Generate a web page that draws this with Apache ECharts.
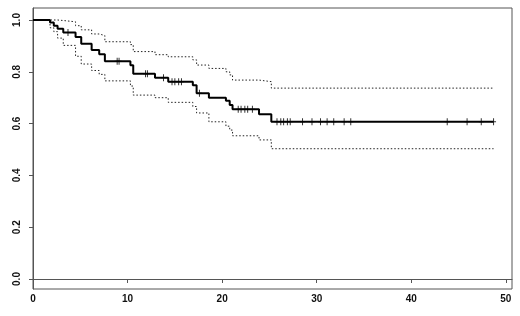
<!DOCTYPE html>
<html>
<head>
<meta charset="utf-8">
<script src="https://cdn.jsdelivr.net/npm/echarts@6/dist/echarts.min.js"></script>
<style>
  html, body { margin: 0; padding: 0; background: #fff; }
  #km_chart { width: 520px; height: 316px; }
</style>
</head>
<body>
<div id="km_chart"></div>
<script>
// event times (months) and survival estimate with confidence limits
const eventTimes = [0, 1.8, 2.2, 2.6, 3.2, 4.5, 5.1, 6.2, 7.0, 7.6, 10.3, 10.6, 12.9, 14.3, 16.9, 17.3, 18.6, 20.4, 20.8, 21.1, 23.9, 25.2];
const survival   = [1, 0.99, 0.978, 0.966, 0.952, 0.934, 0.908, 0.884, 0.868, 0.841, 0.825, 0.792, 0.777, 0.762, 0.748, 0.717, 0.70, 0.688, 0.672, 0.655, 0.636, 0.607];
const upperCI    = [1, 1, 1, 0.998, 0.993, 0.978, 0.962, 0.946, 0.94, 0.916, 0.905, 0.878, 0.866, 0.858, 0.846, 0.826, 0.813, 0.80, 0.788, 0.768, 0.762, 0.737];
const lowerCI    = [1, 0.97, 0.955, 0.93, 0.902, 0.86, 0.83, 0.805, 0.79, 0.765, 0.745, 0.71, 0.70, 0.682, 0.666, 0.641, 0.607, 0.59, 0.575, 0.553, 0.537, 0.503];
const lastTime = 48.7;

// censored observations
const censorTimes = [3.7, 8.9, 9.1, 11.9, 12.1, 13.8, 14.7, 15.0, 15.4, 15.7, 17.6, 21.7, 22.0, 22.4, 22.7, 23.2,
  25.8, 26.2, 26.5, 26.9, 27.2, 28.5, 29.5, 30.4, 31.1, 31.8, 32.9, 33.6, 43.8, 45.9, 47.4, 48.7];

const xTicks = [0, 10, 20, 30, 40, 50];
const yTicks = [0, 0.2, 0.4, 0.6, 0.8, 1.0];

function stepData(vals) {
  let out = eventTimes.map((t, i) => [t, vals[i]]);
  out.push([lastTime, vals[vals.length - 1]]);
  return out;
}

function survivalAt(t) {
  let s = survival[0];
  for (let i = 0; i < eventTimes.length; i++) {
    if (eventTimes[i] <= t) s = survival[i];
  }
  return s;
}

const labelFont = {
  color: '#111',
  fontFamily: 'Liberation Sans',
  fontWeight: 'bold',
  fontSize: 10
};

const dotted = { color: '#222', width: 1, type: [1.5, 2] };

let km_option = {
  animation: false,
  grid: {
    left: 33, top: 8, width: 479, height: 281,
    show: true, borderColor: '#555', borderWidth: 1
  },
  xAxis: {
    type: 'value',
    min: 0,
    max: 50.65,
    axisLine: { show: true, lineStyle: { color: '#555', width: 1 } },
    axisTick: { show: true, length: 4, customValues: xTicks, lineStyle: { color: '#555' } },
    axisLabel: Object.assign({ customValues: xTicks, margin: 5 }, labelFont),
    splitLine: { show: false }
  },
  yAxis: {
    type: 'value',
    min: -0.0386,
    max: 1.0463,
    axisLine: { show: true, lineStyle: { color: '#555', width: 1 } },
    axisTick: { show: true, length: 4, customValues: yTicks, lineStyle: { color: '#555' } },
    axisLabel: Object.assign({
      customValues: yTicks,
      rotate: 90,
      margin: 11,
      formatter: v => v.toFixed(1)
    }, labelFont),
    splitLine: { show: false }
  },
  series: [
    {
      name: 'upper',
      type: 'line',
      step: 'end',
      showSymbol: false,
      lineStyle: dotted,
      data: stepData(upperCI)
    },
    {
      name: 'lower',
      type: 'line',
      step: 'end',
      showSymbol: false,
      lineStyle: dotted,
      data: stepData(lowerCI)
    },
    {
      name: 'survival',
      type: 'line',
      step: 'end',
      showSymbol: false,
      lineStyle: { color: '#000', width: 2 },
      data: stepData(survival)
    },
    {
      name: 'censored',
      type: 'scatter',
      symbol: 'path://M2,0h1v7h-1zM0,3h5v1h-5z',
      symbolSize: [5, 7],
      itemStyle: { color: '#000' },
      data: censorTimes.map(t => [t, survivalAt(t)])
    }
  ]
};

var km_chart = echarts.init(document.getElementById('km_chart'));
km_chart.setOption(km_option);
</script>
</body>
</html>
